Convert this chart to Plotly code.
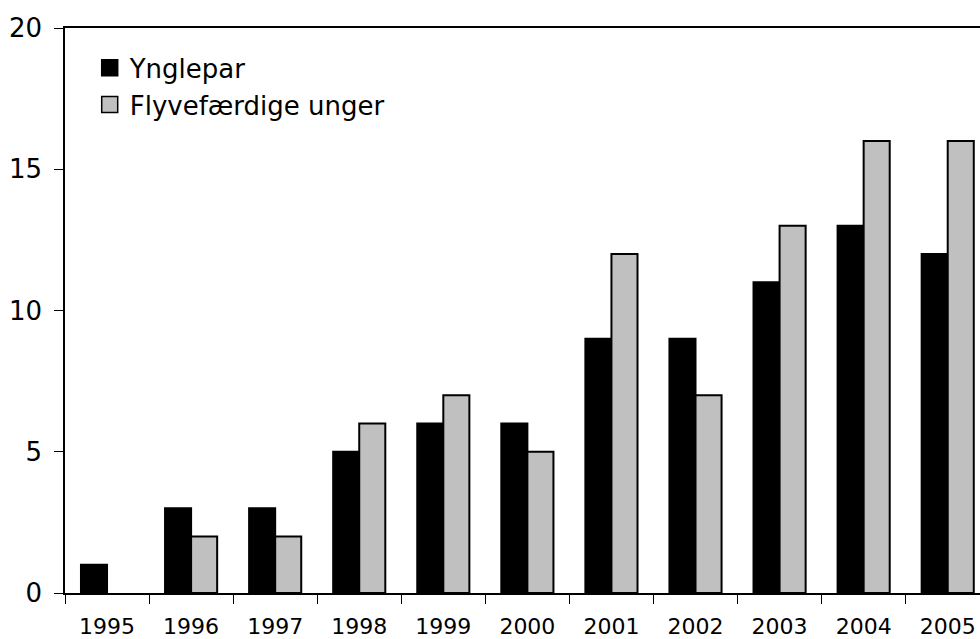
import plotly.graph_objects as go

years = ["1995", "1996", "1997", "1998", "1999", "2000", "2001", "2002", "2003", "2004", "2005"]
ynglepar = [1, 3, 3, 5, 6, 6, 9, 9, 11, 13, 12]
unger = [None, 2, 2, 6, 7, 5, 12, 7, 13, 16, 16]
y_ticks = [0, 5, 10, 15, 20]
series_names = ["Ynglepar", "Flyvefærdige unger"]
series_colors = ["#000000", "#C0C0C0"]

FONT = "DejaVu Sans"

fig = go.Figure()
for name, vals, col in zip(series_names, [ynglepar, unger], series_colors):
    fig.add_trace(go.Bar(x=years, y=vals, name=name, legendgroup=name, showlegend=False,
                         marker=dict(color=col, line=dict(color="#000000", width=2))))
# legend entries with larger square swatches
for name, col in zip(series_names, series_colors):
    fig.add_trace(go.Scatter(x=[None], y=[None], mode="markers", name=name, legendgroup=name,
                             marker=dict(symbol="square", size=16, color=col,
                                         line=dict(color="#000000", width=1.5))))

fig.update_layout(
    width=980, height=639,
    margin=dict(l=65, r=0, t=28, b=44),
    paper_bgcolor="white", plot_bgcolor="white",
    barmode="group", bargap=0.38, bargroupgap=0,
    font=dict(family=FONT, size=22, color="black"),
    showlegend=True,
    legend=dict(x=0.027, y=0.971, xanchor="left", yanchor="top",
                font=dict(family=FONT, size=26, color="black"),
                bgcolor="rgba(0,0,0,0)", tracegroupgap=0, itemwidth=30,
                itemsizing="trace", traceorder="normal"),
    xaxis=dict(type="category", range=[-0.5, 10.384],
               showline=True, linecolor="black", linewidth=1.5, mirror=True,
               ticks="outside", tickson="boundaries", ticklen=9, tickcolor="black",
               showgrid=False, zeroline=False, ticklabelstandoff=13,
               tickfont=dict(family=FONT, size=22, color="black")),
    yaxis=dict(range=[0, 20], tickvals=y_ticks,
               showline=True, linecolor="black", linewidth=1.5,
               ticks="outside", ticklen=9, tickcolor="black",
               showgrid=False, zeroline=False, ticklabelstandoff=7,
               tickfont=dict(family=FONT, size=26, color="black")),
)

fig.write_html("out.html", config={"displayModeBar": False},
               post_script="document.body.style.margin='0';")
